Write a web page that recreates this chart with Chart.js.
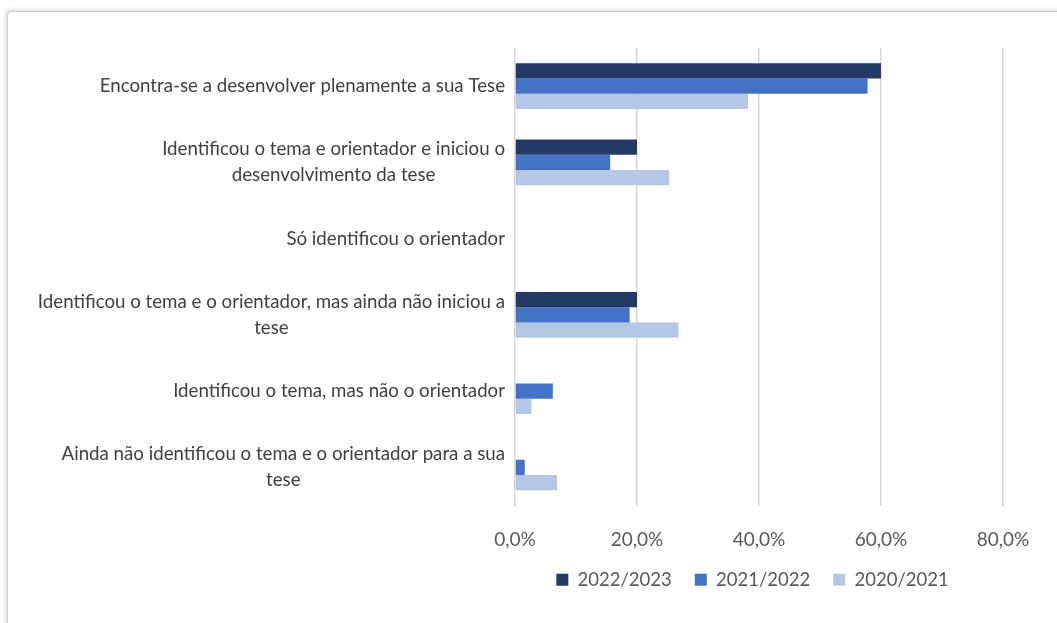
<!DOCTYPE html>
<html>
<head>
<meta charset="utf-8">
<script src="https://cdn.jsdelivr.net/npm/chart.js@4.4.1/dist/chart.umd.min.js"></script>
<style>
  html, body { margin: 0; padding: 0; background: #ffffff; }
  body { width: 1057px; height: 623px; position: relative; overflow: hidden; }
  #card { position: absolute; left: 7px; top: 11px; width: 1120px; height: 700px;
          border: 1px solid #cfcfcf; border-radius: 4px; box-shadow: -1px -1px 4px rgba(0,0,0,0.18); background: #fff; }
  #wrap { position: absolute; left: 0; top: 0; width: 1057px; height: 623px; }
</style>
</head>
<body>
<div id="card"></div>
<div id="wrap"><canvas id="c" width="1057" height="623"></canvas></div>
<script>
const categories = [
  ["Encontra-se a desenvolver plenamente a sua Tese"],
  ["Identificou o tema e orientador e iniciou o", "desenvolvimento da tese"],
  ["Só identificou o orientador"],
  ["Identificou o tema e o orientador, mas ainda não iniciou a", "tese"],
  ["Identificou o tema, mas não o orientador"],
  ["Ainda não identificou o tema e o orientador para a sua", "tese"]
];
const seriesNames = ["2022/2023", "2021/2022", "2020/2021"];
const values2022_2023 = [60.0, 20.0, 0, 20.0, 0, 0];
const values2021_2022 = [57.8, 15.6, 0, 18.8, 6.2, 1.6];
const values2020_2021 = [38.2, 25.3, 0, 26.8, 2.7, 6.9];
const xTicks = [0, 20, 40, 60, 80];

const colors = ["#233a66", "#4472c4", "#b4c7e7"];
const labelFont = "18.7px Lato";
const labelColor = "#404040";

const yLabelsPlugin = {
  id: 'yLabels',
  afterLayout(chart) {
    // move legend up slightly so its row sits where the reference places it
    if (chart.legend) { chart.legend.top -= 10; chart.legend.bottom -= 10; }
  },
  afterDraw(chart) {
    const ctx = chart.ctx;
    const yScale = chart.scales.y;
    const rightEdge = chart.chartArea.left - 10;
    const lineH = 26;
    ctx.save();
    ctx.font = labelFont;
    ctx.fillStyle = labelColor;
    ctx.textBaseline = 'middle';
    ctx.textAlign = 'center';
    categories.forEach((lines, i) => {
      const yc = yScale.getPixelForValue(i);
      const w = Math.max(...lines.map(l => ctx.measureText(l).width));
      const xc = rightEdge - w / 2;
      const y0 = yc - (lines.length - 1) * lineH / 2;
      lines.forEach((l, j) => ctx.fillText(l, xc, y0 + j * lineH));
    });
    ctx.restore();
  }
};

new Chart(document.getElementById('c'), {
  type: 'bar',
  data: {
    labels: categories.map(l => l.join(' ')),
    datasets: [
      { label: seriesNames[0], data: values2022_2023, backgroundColor: colors[0] },
      { label: seriesNames[1], data: values2021_2022, backgroundColor: colors[1] },
      { label: seriesNames[2], data: values2020_2021, backgroundColor: colors[2] }
    ]
  },
  options: {
    indexAxis: 'y',
    responsive: false,
    animation: false,
    devicePixelRatio: 1,
    layout: { padding: { left: 502, right: 54, top: 48, bottom: 14 } },
    datasets: { bar: { categoryPercentage: 0.6, barPercentage: 1.0, borderWidth: 0 } },
    scales: {
      x: {
        min: 0, max: 80,
        afterBuildTicks(scale) { scale.ticks = xTicks.map(v => ({ value: v })); },
        afterFit(scale) { scale.height = 52; },
        grid: { color: '#d9d9d9', lineWidth: 1.5, drawTicks: false },
        border: { display: false },
        ticks: {
          padding: 23,
          color: '#595959',
          font: { family: 'Lato', size: 19 },
          callback: v => v.toFixed(1).replace('.', ',') + '%'
        }
      },
      y: {
        afterFit(scale) { scale.width = 13; },
        grid: { display: false },
        border: { display: false },
        ticks: { display: false }
      }
    },
    plugins: {
      legend: {
        position: 'bottom',
        labels: {
          boxWidth: 12, boxHeight: 12, padding: 23,
          color: '#595959',
          font: { family: 'Lato', size: 18.5 }
        }
      },
      tooltip: { enabled: false }
    }
  },
  plugins: [yLabelsPlugin]
});
</script>
</body>
</html>
